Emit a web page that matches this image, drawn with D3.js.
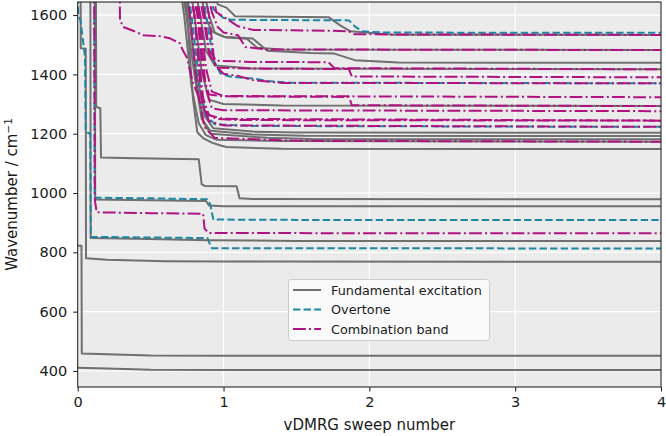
<!DOCTYPE html>
<html>
<head>
<meta charset="utf-8">
<script src="https://cdn.jsdelivr.net/npm/d3@7"></script>
<style>
  html, body { margin: 0; padding: 0; background: #ffffff; }
  svg { display: block; font-family: "DejaVu Sans", sans-serif; }
</style>
</head>
<body>
<svg id="chart" width="666" height="436"></svg>
<script>
// ---------------- data ----------------
const xTicks = [0, 1, 2, 3, 4];
const yTicks = [400, 600, 800, 1000, 1200, 1400, 1600];
const seriesNames = ["Fundamental excitation", "Overtone", "Combination band"];

// each line: [sweep, wavenumber] points
const fundamentalLines = [
  [[0,411],[0.2,408],[0.5,404],[1,403.5],[4,403]],
  [[0,822],[0.026,822],[0.028,459],[0.2,456],[0.5,452],[1,451.5],[4,451]],
  [[0.02,1700],[0.021,1488],[0.055,1486],[0.057,780],[0.2,775],[0.6,770],[1,769],[4,768]],
  [[0.087,1700],[0.089,848],[0.4,846],[0.9,841],[1.5,838.5],[4,838]],
  [[0.118,1700],[0.12,978],[0.5,976],[0.88,973],[0.9,958],[1,955.5],[4,955]],
  [[0.125,1700],[0.127,1290],[0.155,1286],[0.16,1120],[0.4,1117],[0.83,1114],[0.85,1030],[0.87,1024],[1.09,1023],[1.11,982],[1.2,979.5],[4,979]],
  [[0.72,1700],[0.75,1600],[0.79,1320],[0.82,1205],[0.86,1185],[0.92,1170],[0.98,1160],[1.02,1155],[1.4,1149],[4,1148]],
  [[0.70,1700],[0.73,1600],[0.78,1360],[0.83,1235],[0.88,1195],[0.95,1180],[1.4,1175],[4,1173]],
  [[0.74,1700],[0.77,1600],[0.81,1390],[0.86,1240],[0.91,1200],[1.3,1186],[1.6,1182],[4,1181]],
  [[0.71,1700],[0.745,1600],[0.8,1400],[0.85,1250],[0.91,1210],[1.2,1197],[1.55,1193],[4,1192]],
  [[0.73,1700],[0.76,1600],[0.81,1420],[0.87,1260],[0.93,1218],[1.2,1207],[1.5,1204],[4,1203]],
  [[0.77,1700],[0.8,1600],[0.85,1410],[0.9,1315],[1.0,1300],[1.4,1295],[4,1293]],
  [[0.8,1700],[0.84,1600],[0.88,1480],[0.94,1430],[1.2,1420],[4,1417]],
  [[0.84,1700],[0.87,1600],[0.92,1545],[1.0,1527],[1.2,1521],[1.3,1480],[1.6,1472],[1.76,1470],[1.9,1448],[2.2,1440],[4,1439]],
  [[0.86,1700],[0.9,1600],[0.94,1540],[1.02,1524],[1.16,1520],[1.23,1490],[1.4,1484],[4,1482]],
  [[0.93,1700],[0.96,1636],[1.02,1625],[1.08,1596],[1.72,1593],[1.8,1565],[1.87,1545],[2.15,1534],[4,1533]]
];

const overtoneLines = [
  [[0.0,1700],[0.004,1600],[0.02,1580],[0.05,1460],[0.055,1215],[0.06,1205],[0.086,1200],[0.09,852],[0.5,850],[0.89,848],[0.9,835],[0.92,814],[4,813]],
  [[0.113,1700],[0.116,984],[0.5,982],[0.89,979],[0.91,960],[0.93,911],[1.2,909.5],[4,909]],
  [[0.75,1700],[0.78,1600],[0.84,1350],[0.88,1262],[0.94,1232],[1.2,1226],[4,1223]],
  [[0.85,1700],[0.88,1600],[0.93,1450],[0.98,1402],[1.05,1392],[1.2,1386],[1.3,1378],[1.45,1372],[4,1370]],
  [[0.9,1700],[0.93,1620],[1.0,1590],[1.05,1584],[1.86,1582],[1.9,1562],[1.95,1545],[2.1,1541],[4,1540]]
];

const combinationLines = [
  [[0.113,1700],[0.118,975],[0.13,935],[0.5,932],[0.86,930],[0.87,880],[0.9,865],[4,864]],
  [[0.74,1700],[0.77,1600],[0.82,1350],[0.87,1222],[0.94,1186],[1.5,1176],[4,1173]],
  [[0.77,1700],[0.8,1600],[0.85,1320],[0.9,1242],[1.0,1228],[4,1223]],
  [[0.288,1700],[0.29,1585],[0.31,1560],[0.38,1547],[0.45,1532],[0.56,1529],[0.63,1522],[0.7,1505],[0.72,1482],[0.75,1455],[0.79,1371],[0.84,1313],[0.88,1270],[0.95,1250],[1.1,1246],[4,1244]],
  [[0.76,1700],[0.8,1600],[0.86,1320],[0.9,1262],[1.0,1250],[4,1244]],
  [[0.79,1700],[0.83,1600],[0.88,1350],[0.92,1286],[1.0,1279],[4,1276]],
  [[0.78,1700],[0.82,1600],[0.86,1400],[0.9,1332],[1.0,1326],[1.86,1324],[1.88,1296],[4,1293]],
  [[0.8,1700],[0.84,1600],[0.88,1420],[0.92,1342],[1.0,1327],[4,1323]],
  [[0.86,1700],[0.9,1600],[0.94,1432],[1.0,1402],[1.1,1395],[1.2,1381],[1.4,1371],[4,1370]],
  [[0.82,1700],[0.86,1600],[0.9,1470],[0.96,1422],[1.3,1419],[1.86,1418],[1.88,1393],[4,1390]],
  [[0.84,1700],[0.87,1600],[0.9,1482],[0.95,1446],[1.2,1442],[1.72,1441],[1.76,1421],[4,1417]],
  [[0.88,1700],[0.92,1610],[0.96,1560],[1.0,1541],[1.1,1532],[1.15,1492],[1.3,1484],[4,1482]],
  [[0.92,1700],[0.95,1610],[1.1,1562],[1.2,1550],[1.75,1547],[1.86,1545],[1.9,1535],[4,1533]]
];

// ---------------- drawing ----------------
const svg = d3.select("#chart");
const pL = 77.7, pR = 661, pT = 2, pB = 387;

const x = d3.scaleLinear().domain([0, 4]).range([pL, pR]);
const y = d3.scaleLinear().domain([346, 1644]).range([pB, pT]);

const colors = { fund: "#6f6f6f", over: "#1f86a2", comb: "#b01381" };

// background
svg.append("rect").attr("x", pL).attr("y", pT)
  .attr("width", pR - pL).attr("height", pB - pT).attr("fill", "#ebebeb");

// grid
const grid = svg.append("g");
grid.selectAll("line.gx").data(xTicks).join("line")
  .attr("x1", d => x(d)).attr("x2", d => x(d))
  .attr("y1", pT).attr("y2", pB)
  .attr("stroke", "#ffffff").attr("stroke-width", 1.2);
grid.selectAll("line.gy").data(yTicks).join("line")
  .attr("x1", pL).attr("x2", pR)
  .attr("y1", d => y(d)).attr("y2", d => y(d))
  .attr("stroke", "#ffffff").attr("stroke-width", 1.2);

// clip
svg.append("defs").append("clipPath").attr("id", "plotclip")
  .append("rect").attr("x", pL).attr("y", pT)
  .attr("width", pR - pL).attr("height", pB - pT);

const line = d3.line().x(d => x(d[0])).y(d => y(d[1]));
const plot = svg.append("g").attr("clip-path", "url(#plotclip)");

function drawSet(data, color, dash) {
  plot.append("g").selectAll("path").data(data).join("path")
    .attr("d", line)
    .attr("fill", "none")
    .attr("stroke", color)
    .attr("stroke-width", 2)
    .attr("stroke-linejoin", "round")
    .attr("stroke-dasharray", dash);
}
drawSet(fundamentalLines, colors.fund, null);
drawSet(overtoneLines, colors.over, "7.4,3.2");
drawSet(combinationLines, colors.comb, "12.8,3.2,2,3.2");

// frame
svg.append("rect").attr("x", pL).attr("y", pT)
  .attr("width", pR - pL).attr("height", pB - pT)
  .attr("fill", "none").attr("stroke", "#262626").attr("stroke-width", 1.1);

// axes
const xAxis = svg.append("g").attr("transform", `translate(0,${pB})`)
  .call(d3.axisBottom(x).tickValues(xTicks).tickFormat(d3.format("d")).tickSize(4.5).tickPadding(5));
const yAxis = svg.append("g").attr("transform", `translate(${pL},0)`)
  .call(d3.axisLeft(y).tickValues(yTicks).tickFormat(d3.format("d")).tickSize(4.5).tickPadding(6));
[xAxis, yAxis].forEach(a => {
  a.select(".domain").remove();
  a.selectAll(".tick line").attr("stroke", "#262626").attr("stroke-width", 1.1);
  a.selectAll(".tick text").attr("fill", "#1a1a1a")
    .style("font-size", "14.5px").style("font-family", "DejaVu Sans, sans-serif");
});

// axis labels
svg.append("text").attr("x", (pL + pR) / 2).attr("y", 430)
  .attr("text-anchor", "middle").attr("fill", "#1a1a1a")
  .style("font-size", "15px").text("vDMRG sweep number");

const yl = svg.append("text")
  .attr("transform", `translate(17,${(pT + pB) / 2}) rotate(-90)`)
  .attr("text-anchor", "middle").attr("fill", "#1a1a1a")
  .style("font-size", "15px");
yl.append("tspan").text("Wavenumber  / cm");
yl.append("tspan").attr("dy", "-0.45em").style("font-size", "10.5px").text("\u22121");

// legend
const lg = svg.append("g");
lg.append("rect").attr("x", 288.5).attr("y", 279.5).attr("width", 201).attr("height", 61)
  .attr("rx", 3).attr("fill", "#fafafa").attr("stroke", "#cccccc").attr("stroke-width", 1);
const legendItems = [
  { name: seriesNames[0], color: colors.fund, dash: null },
  { name: seriesNames[1], color: colors.over, dash: "7.4,3.2" },
  { name: seriesNames[2], color: colors.comb, dash: "12.8,3.2,2,3.2" }
];
legendItems.forEach((it, i) => {
  const yy = 290 + i * 19.5;
  lg.append("line").attr("x1", 293).attr("x2", 321).attr("y1", yy).attr("y2", yy)
    .attr("stroke", it.color).attr("stroke-width", 2).attr("stroke-dasharray", it.dash);
  lg.append("text").attr("x", 331).attr("y", yy + 4.5).attr("fill", "#1a1a1a")
    .style("font-size", "12.8px").text(it.name);
});
</script>
</body>
</html>
